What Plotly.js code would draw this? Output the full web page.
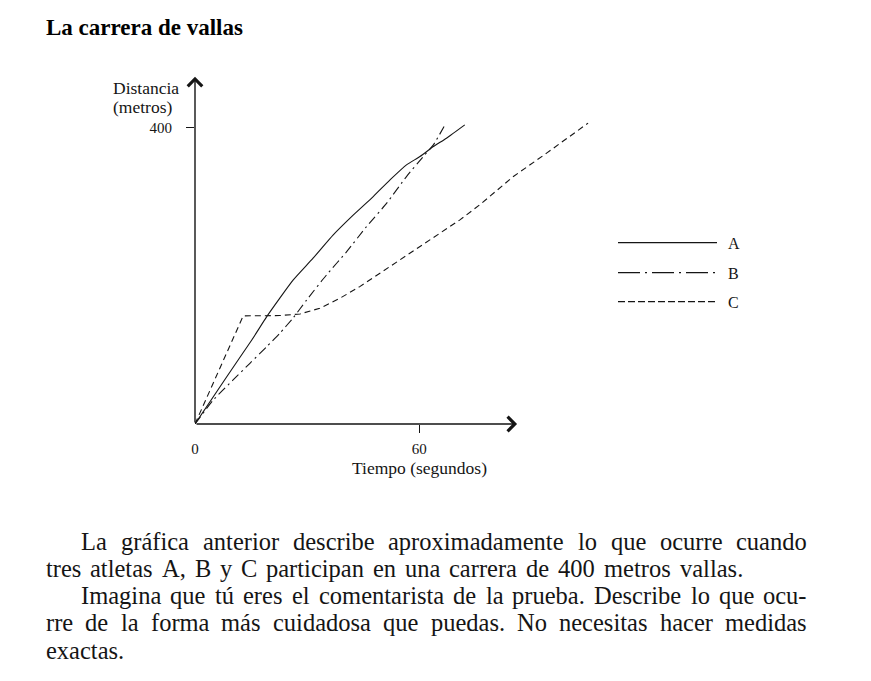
<!DOCTYPE html>
<html>
<head>
<meta charset="utf-8">
<script src="https://cdn.plot.ly/plotly-3.0.1.min.js"></script>
<style>html,body{margin:0;padding:0;background:#fff;}#chart{width:871px;height:681px;}</style>
</head>
<body>
<div id="chart"></div>
<script>
// ---- data ----
const timeA = [0, 8.5, 15.2, 19.2, 22.7, 26.3, 31.6, 37.0, 42.4, 47.7, 52.2, 56.6, 60.2, 63.8, 67.3, 72.2];
const distA = [0, 63.9, 113.5, 145, 170, 194.6, 223.9, 255.4, 282.4, 307.2, 329.7, 350, 361.2, 374.7, 386, 404];

const timeB = [0, 4.9, 10.2, 14.7, 19.2, 22.7, 26.3, 29.9, 35.2, 40.6, 45.9, 51.3, 56.6, 61.1, 63.8, 66.9];
const distB = [0, 32.4, 59.5, 82, 104.5, 122.6, 143.5, 167.6, 201.4, 232.8, 266.6, 298.2, 334.2, 361.2, 377, 404];

const timeC = [0, 12.9, 22.7, 28.1, 33.4, 38.8, 44.1, 49.5, 54.8, 60.2, 65.5, 70.9, 76.2, 85.2, 94.1, 105.2];
const distC = [0, 146, 146.5, 148.6, 156.3, 169.9, 185.5, 203.6, 221.6, 239.6, 257.7, 275.7, 296, 334.2, 365.8, 406.4];

const seriesNames = ['A', 'B', 'C'];
const xTickVals = [60];
const xTickText = ['60'];
const xZeroVals = [0];
const xZeroText = ['0'];
const yTickVals = [400];
const yTickText = ['400'];
const xRange = [0, 110];
const yRange = [0, 470];
const xAxisEnd = 86.2;
const yAxisEnd = 469;

const titleText = 'La carrera de vallas';
const yTitleLines = ['Distancia', '(metros)'];
const xTitleText = 'Tiempo (segundos)';
const paragraphLines = [
  'La gráfica anterior describe aproximadamente lo que ocurre cuando',
  'tres atletas A, B y C participan en una carrera de 400 metros vallas.',
  'Imagina que tú eres el comentarista de la prueba. Describe lo que ocu-',
  'rre de la forma más cuidadosa que puedas. No necesitas hacer medidas',
  'exactas.'
];

// ---- layout geometry ----
const L = 195, T = 76, PW = 411, PH = 348;
const px2x = px => (px - L) / PW;
const py2y = py => (T + PH - py) / PH;

const INK = '#151515';
const SERIF = '"Liberation Serif", "Times New Roman", serif';
const dashB = '9px,4px,2px,4px';
const dashC = '6px,4px';

const traces = [
  {x: timeA, y: distA, name: seriesNames[0], xaxis: 'x2', yaxis: 'y', mode: 'lines',
    line: {color: INK, width: 1.1, shape: 'spline', smoothing: 0.6}},
  {x: timeB, y: distB, name: seriesNames[1], mode: 'lines',
    line: {color: INK, width: 1.1, dash: dashB, shape: 'spline', smoothing: 0.5}},
  {x: timeC, y: distC, name: seriesNames[2], mode: 'lines', line: {color: INK, width: 1.1, dash: dashC}}
];

const annotations = [];
// axis arrows
annotations.push({x: xAxisEnd, y: 0, ax: 0, ay: 0, xref: 'x', yref: 'y', axref: 'x', ayref: 'y',
  text: '', showarrow: true, arrowhead: 4, arrowsize: 2, arrowwidth: 1.4, arrowcolor: INK});
annotations.push({x: 0, y: yAxisEnd, ax: 0, ay: 0, xref: 'x', yref: 'y', axref: 'x', ayref: 'y',
  text: '', showarrow: true, arrowhead: 4, arrowsize: 2, arrowwidth: 1.4, arrowcolor: INK});

// y axis title (two lines, left aligned)
const yTitleBase = [94, 113];
yTitleLines.forEach((t, i) => {
  annotations.push({text: t, xref: 'paper', yref: 'paper', x: px2x(111.5), y: py2y(yTitleBase[i] - 0.3375 * 17.5),
    xanchor: 'left', yanchor: 'middle', showarrow: false, borderpad: 0, font: {family: SERIF, size: 17.5, color: INK}});
});
// x axis title
annotations.push({text: xTitleText, xref: 'paper', yref: 'paper', x: px2x(419.2), y: py2y(474 - 0.3375 * 17.5),
  xanchor: 'center', yanchor: 'middle', showarrow: false, borderpad: 0, font: {family: SERIF, size: 17.5, color: INK}});

// legend
const shapes = [];
const legY = [242.7, 272.7, 301.7];
const legDash = ['solid', '22px,5px,2px,5px', '7px,3px'];
seriesNames.forEach((n, i) => {
  shapes.push({type: 'line', xref: 'paper', yref: 'paper', x0: px2x(618), x1: px2x(717), y0: py2y(legY[i]), y1: py2y(legY[i]),
    line: {color: INK, width: 1.2, dash: legDash[i]}});
  annotations.push({text: n, xref: 'paper', yref: 'paper', x: px2x(725.5), y: py2y(legY[i] + 0.3),
    xanchor: 'left', yanchor: 'middle', showarrow: false, font: {family: SERIF, size: 16, color: INK}});
});

// paragraph (justified lines)
const PFS = 24.5;
const ctx = document.createElement('canvas').getContext('2d');
ctx.font = PFS + 'px "Liberation Serif"';
const lineSpec = [
  {left: 80, right: 806, justify: true},
  {left: 45, right: 742, justify: true},
  {left: 80, right: 806, justify: true},
  {left: 45, right: 806, justify: true},
  {left: 45, right: null, justify: false}
];
const baseline0 = 549.5, lineGap = 27.2;
paragraphLines.forEach((line, i) => {
  const spec = lineSpec[i];
  const yc = py2y(baseline0 + i * lineGap - 0.3375 * PFS);
  const font = {family: SERIF, size: PFS, color: INK};
  if (!spec.justify) {
    annotations.push({text: line, xref: 'paper', yref: 'paper', x: px2x(spec.left), y: yc,
      xanchor: 'left', yanchor: 'middle', showarrow: false, borderpad: 0, font: font});
    return;
  }
  const words = line.split(' ');
  const widths = words.map(w => ctx.measureText(w).width);
  const total = widths.reduce((a, b) => a + b, 0);
  const gap = (spec.right - spec.left - total) / (words.length - 1);
  let cx = spec.left;
  words.forEach((w, k) => {
    annotations.push({text: w, xref: 'paper', yref: 'paper', x: px2x(cx), y: yc,
      xanchor: 'left', yanchor: 'middle', showarrow: false, borderpad: 0, font: font});
    cx += widths[k] + gap;
  });
});

const axisFont = {family: SERIF, size: 15, color: INK};
const layout = {
  width: 871, height: 681,
  margin: {l: L, r: 871 - L - PW, t: T, b: 681 - T - PH, pad: 0},
  paper_bgcolor: '#fff', plot_bgcolor: '#fff',
  showlegend: false,
  title: {text: '<b>' + titleText + '</b>', xref: 'container', yref: 'container',
    x: 46 / 871, xanchor: 'left', y: 1 - (35 - 0.7 * 23) / 681, yanchor: 'top',
    font: {family: SERIF, size: 23, color: '#000'}},
  xaxis: {range: xRange, showgrid: false, zeroline: false, showline: false,
    tickvals: xTickVals, ticktext: xTickText, ticks: 'outside', ticklen: 8, tickwidth: 1.3, tickcolor: INK,
    tickfont: axisFont, ticklabelstandoff: 3, fixedrange: true},
  xaxis2: {range: xRange, overlaying: 'x', anchor: 'y', side: 'bottom', showgrid: false, zeroline: false, showline: false,
    tickvals: xZeroVals, ticktext: xZeroText, ticks: 'outside', ticklen: 8, tickwidth: 1, tickcolor: 'rgba(0,0,0,0)',
    tickfont: axisFont, ticklabelstandoff: 3, fixedrange: true},
  yaxis: {range: yRange, showgrid: false, zeroline: false, showline: false,
    tickvals: yTickVals, ticktext: yTickText, ticks: 'outside', ticklen: 8, tickwidth: 1.3, tickcolor: INK,
    tickfont: axisFont, ticklabelstandoff: 11, fixedrange: true},
  shapes: shapes,
  annotations: annotations
};

Plotly.newPlot('chart', traces, layout, {staticPlot: true, displayModeBar: false});
</script>
</body>
</html>
